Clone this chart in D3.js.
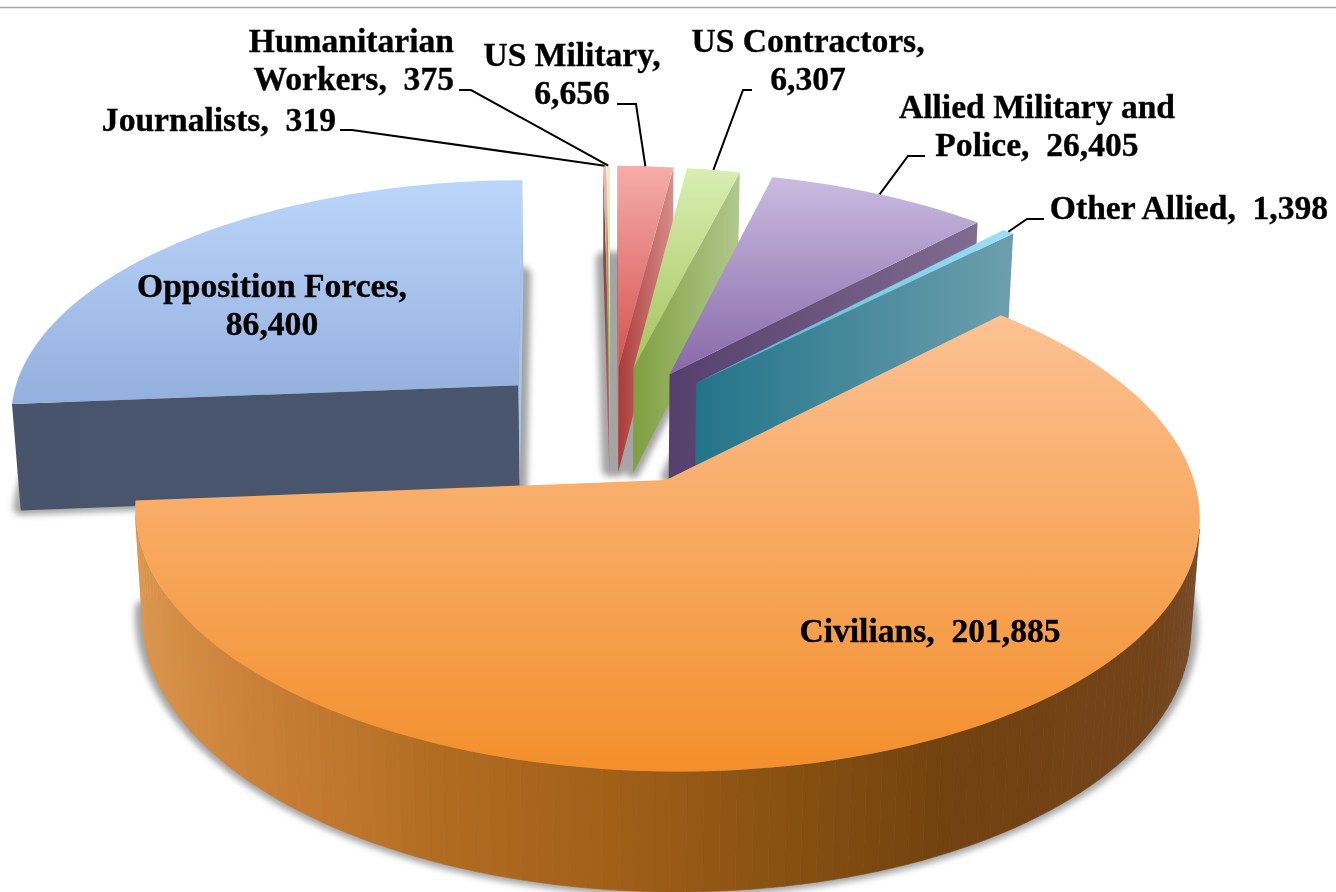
<!DOCTYPE html>
<html>
<head>
<meta charset="utf-8">
<script src="https://d3js.org/d3.v7.min.js"></script>
<style>
  html, body { margin: 0; padding: 0; background: #fff; overflow: hidden; }
  text { font-family: "Liberation Serif", serif; font-weight: bold; font-size: 33.6px; fill: #000; stroke: #000; stroke-width: 0.35px; white-space: pre; }
</style>
</head>
<body>
<div id="chart"></div>
<script>
// values
var categories = ["Civilians", "Opposition Forces", "Journalists", "Humanitarian Workers", "US Military", "US Contractors", "Allied Military and Police", "Other Allied"];
var values = [201885, 86400, 319, 375, 6656, 6307, 26405, 1398];
var labelWrap = ["", "Opposition Forces,", "", "Humanitarian", "US Military,", "US Contractors,", "Allied Military and", ""];

// colours per slice: top face light/dark, side wall dark/light
var topLight = ["#fcc193", "#bcd5fa", "#f6b4b2", "#e6f2c2", "#f5acaa", "#d9eeb2", "#cabbe1", "#9de0f6"];
var topDark = ["#f38f2b", "#93afdd", "#e08a88", "#c8dc98", "#d4534e", "#a3c45c", "#8769a7", "#4fb2ce"];
var wallDark = ["#74420f", "#48546c", "#7a3a38", "#7f9f3f", "#aa3b38", "#7f9f3f", "#553f6d", "#237489"];
var wallLight = ["#d9944c", "#4a566e", "#b86a68", "#b0c68a", "#d68e8c", "#b2c88e", "#806c92", "#6c9fae"];

// label and leader layout, same order as categories
var labelX = [930, 272, 336, 454, 572, 808, 1037, 1189];
var labelY = [642, 297, 131, 52, 66, 52, 118, 219];
var labelAnchor = ["middle", "middle", "end", "end", "middle", "middle", "middle", "middle"];
var leaderStart = [null, null, [340, 130], [459, 90], [617, 104], [752, 90], [925, 156], [1044, 219]];
var leaderElbow = [null, null, [352, 130], [471, 90], [636, 104], [743, 90], [908, 156], [1027, 219]];

var width = 1336, height = 892;

// camera for the tilted plate; X right, Y away from viewer, h downward
var cx = 610.5, cy = 424.6, a = 513, b = 240, k = 0.125, skew = 4;
var depth = 109, depthK = 0.015, explode = 0.247;

function project(X, Y, h) {
  var w = 1 + k * Y + depthK * h;
  return [cx + a * X / w - skew * Y, cy + (-b * Y + depth * h) / w];
}

var toRad = Math.PI / 180;
var pie = d3.pie().sort(null).value(function(d) { return d.value; })
  .startAngle(45 * toRad).endAngle(405 * toRad);

var data = values.map(function(v, i) { return { name: categories[i], value: v, i: i }; });
var slices = pie(data);

slices.forEach(function(s) {
  var mid = (s.startAngle + s.endAngle) / 2;
  s.ox = explode * Math.sin(mid);
  s.oy = explode * Math.cos(mid);
  s.mid = mid;
  var n = Math.max(2, Math.ceil((s.endAngle - s.startAngle) / (1.6 * toRad)));
  s.angles = d3.range(n + 1).map(function(j) { return s.startAngle + (s.endAngle - s.startAngle) * j / n; });
});

function rimPoint(s, t, h) { return project(s.ox + Math.sin(t), s.oy + Math.cos(t), h); }
function apexPoint(s, h) { return project(s.ox, s.oy, h); }
function facePoints(s, h) {
  return [apexPoint(s, h)].concat(s.angles.map(function(t) { return rimPoint(s, t, h); }));
}

var line = d3.line();
function closed(pts) { return line(pts) + "Z"; }

var svg = d3.select("#chart").append("svg").attr("width", width).attr("height", height);
var defs = svg.append("defs");

var blur = defs.append("filter").attr("id", "soft")
  .attr("x", "-10%").attr("y", "-10%").attr("width", "120%").attr("height", "120%");
blur.append("feGaussianBlur").attr("stdDeviation", 3);

function gradient(id, x2, y2, c0, c1) {
  var g = defs.append("linearGradient").attr("id", id)
    .attr("x1", 0).attr("y1", 0).attr("x2", x2).attr("y2", y2);
  g.append("stop").attr("offset", 0).attr("stop-color", c0);
  g.append("stop").attr("offset", 1).attr("stop-color", c1);
}
slices.forEach(function(s, i) {
  gradient("top" + i, 0, 1, topLight[i], topDark[i]);
  gradient("wall" + i, 1, 0, wallDark[i], wallLight[i]);
});

// rule along the top of the page
svg.append("line").attr("x1", 0).attr("x2", width).attr("y1", 7.5).attr("y2", 7.5)
  .attr("stroke", "#a8a8a8").attr("stroke-width", 1.5);

// soft shadow = the bottom face of every slice
svg.append("g").attr("filter", "url(#soft)")
  .selectAll("path").data(slices).enter().append("path")
  .attr("d", function(s) { return closed(facePoints(s, 1)); })
  .attr("transform", "translate(0,-3)")
  .attr("fill", "#a4a4a4").attr("stroke", "#a4a4a4").attr("stroke-width", 15)
  .attr("stroke-linejoin", "round");

// colour of the round wall of the big slice, by how far round it sits
var civilianWall = d3.scaleLinear()
  .domain([-1, -0.75, -0.4, -0.1, 0.15, 0.45, 0.85, 1])
  .range(["#dc984f", "#cc8238", "#b26c22", "#a15f18", "#8a5212", "#72420f", "#72431a", "#774d2a"]);

// signed area as seen on screen, y pointing down: clockwise is positive
function screenArea(pts) { return -d3.polygonArea(pts); }

// back slices first, then the two big ones
var drawOrder = [2, 3, 4, 5, 6, 7, 1, 0];
drawOrder.forEach(function(i) {
  var s = slices[i];
  var g = svg.append("g").attr("class", "slice");

  // straight walls, each only when it turns toward the viewer
  [s.startAngle, s.endAngle].forEach(function(t) {
    var wall = [apexPoint(s, 0), rimPoint(s, t, 0), rimPoint(s, t, 1), apexPoint(s, 1)];
    var area = screenArea(wall);
    if (t === s.endAngle ? area <= 0 : area >= 0) return;
    g.append("path").attr("d", closed(wall))
      .attr("fill", i === 1 && t === s.endAngle ? "#a9c3ea" : "url(#wall" + i + ")");
  });

  // round wall, in small strips so that it keeps its banding
  d3.pairs(s.angles).forEach(function(p) {
    var quad = [rimPoint(s, p[0], 0), rimPoint(s, p[1], 0), rimPoint(s, p[1], 1), rimPoint(s, p[0], 1)];
    if (screenArea(quad) >= 0) return;
    var fill = i === 0 ? civilianWall(Math.sin((p[0] + p[1]) / 2)) : wallDark[i];
    g.append("path").attr("d", closed(quad)).attr("fill", fill).attr("stroke", fill).attr("stroke-width", 0.6);
  });

  g.append("path").attr("d", closed(facePoints(s, 0))).attr("fill", "url(#top" + i + ")");
});

// leaders
slices.forEach(function(s, i) {
  if (!leaderStart[i]) return;
  var end = rimPoint(s, s.mid, 0);
  svg.append("path").attr("fill", "none").attr("stroke", "#000").attr("stroke-width", 2)
    .attr("d", line([leaderStart[i], leaderElbow[i], end]));
});

// labels
var fmt = d3.format(",");
slices.forEach(function(s, i) {
  var full = categories[i] + ",  " + fmt(values[i]);
  var lines = labelWrap[i] ? [labelWrap[i], full.slice(labelWrap[i].length).trim()] : [full];
  lines.forEach(function(t, j) {
    svg.append("text").attr("x", labelX[i]).attr("y", labelY[i] + j * 38)
      .attr("text-anchor", labelAnchor[i]).text(t);
  });
});
</script>
</body>
</html>
